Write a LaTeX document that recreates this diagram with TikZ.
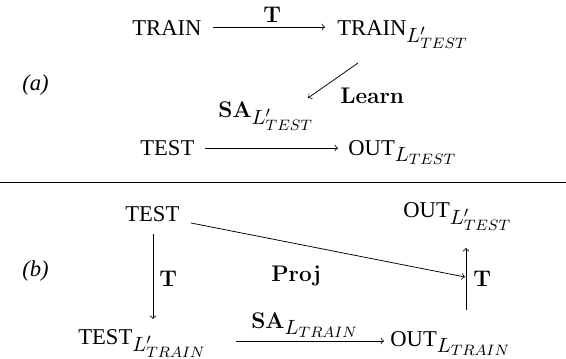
\documentclass[tikz,border=0pt,12pt]{standalone}
\usepackage[no-math]{fontspec}
\setmainfont{Liberation Serif}
\DeclareMathSizes{12}{12}{10.5}{8.3}
\begin{document}
\begin{tikzpicture}[x=0.5310pt,y=-0.5310pt,
  txt/.style={inner sep=0pt, anchor=base west},
  arr/.style={->}]
\useasboundingbox (0,0) rectangle (566,359);
% ---- part (a)
\node[txt] (pa) at (22,90) {\textit{(a)}};
\node[txt] (trainA) at (132,35) {TRAIN};
\node[txt] (trainT) at (337,35) {TRAIN$_{L'_{TEST}}$};
\node[txt] (testA) at (140,155) {TEST};
\node[txt] (outA) at (348,155) {OUT$_{L_{TEST}}$};
\node[txt] (lT1) at (263,22) {$\mathbf{T}$};
\node[txt] (lLearn) at (340,103) {$\mathbf{Learn}$};
\node[txt] (lSA1) at (218,117) {$\mathbf{SA}_{L'_{TEST}}$};
\coordinate (a1s) at (213,27);
\coordinate (a1e) at (325,27);
\coordinate (a2s) at (358,63);
\coordinate (a2e) at (308,98);
\coordinate (a3s) at (205,148);
\coordinate (a3e) at (338,148);
\draw[arr] (a1s) -- (a1e);
\draw[arr] (a2s) -- (a2e);
\draw[arr] (a3s) -- (a3e);
% ---- separator
\coordinate (sepL) at (0,182);
\coordinate (sepR) at (566,182);
\draw (sepL) -- (sepR);
% ---- part (b)
\node[txt] (pb) at (22,276) {\textit{(b)}};
\node[txt] (testB) at (125,221) {TEST};
\node[txt] (outT) at (403,217) {OUT$_{L'_{TEST}}$};
\node[txt] (testT) at (78,344) {TEST$_{L'_{TRAIN}}$};
\node[txt] (outB) at (390,346) {OUT$_{L_{TRAIN}}$};
\node[txt] (lT2) at (159,286) {$\mathbf{T}$};
\node[txt] (lProj) at (271,281) {$\mathbf{Proj}$};
\node[txt] (lSA2) at (251,328) {$\mathbf{SA}_{L_{TRAIN}}$};
\node[txt] (lT3) at (473,286) {$\mathbf{T}$};
\coordinate (b1s) at (153,234);
\coordinate (b1e) at (153,319);
\coordinate (b2s) at (236,341);
\coordinate (b2e) at (384,341);
\coordinate (b3s) at (466,310);
\coordinate (b3e) at (466,248);
\coordinate (b4s) at (191,223);
\coordinate (b4e) at (465,277);
\draw[arr] (b1s) -- (b1e);
\draw[arr] (b2s) -- (b2e);
\draw[arr] (b3s) -- (b3e);
\draw[arr] (b4s) -- (b4e);
\end{tikzpicture}
\end{document}
